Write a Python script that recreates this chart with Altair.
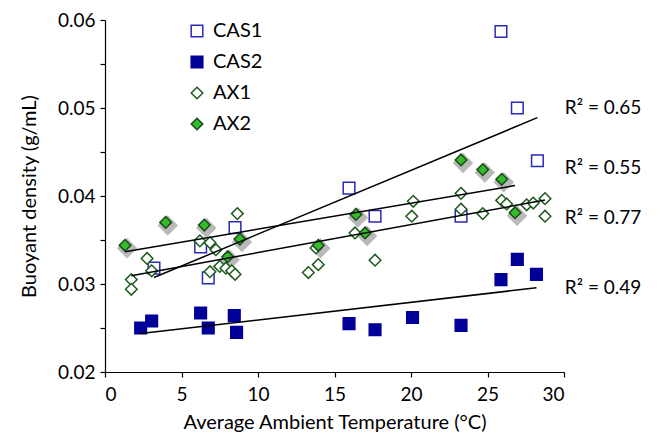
import altair as alt
import pandas as pd

series_names = ["CAS1", "CAS2", "AX1", "AX2"]

cas1_x = [3.2, 6.25, 6.75, 8.5, 15.95, 17.65, 23.27, 25.88, 26.95, 28.26]
cas1_y = [0.0318, 0.0342, 0.0307, 0.0364, 0.0409, 0.0377, 0.0377, 0.0587, 0.0500, 0.0440]

cas2_x = [2.33, 3.05, 6.25, 6.75, 8.45, 8.6, 15.95, 17.65, 20.1, 23.27, 25.88, 26.95, 28.2]
cas2_y = [0.0250, 0.0258, 0.0267, 0.0250, 0.0264, 0.0245, 0.0255, 0.0248, 0.0262, 0.0253, 0.0305, 0.0328, 0.0311]

ax1_x = [1.72, 1.72, 2.75, 3.05, 6.2, 6.86, 7.25, 8.65, 6.86, 7.5, 7.9, 8.28, 8.5,
         13.29, 13.79, 13.94, 16.34, 17.65, 20.15, 20.05, 23.27, 23.27, 24.69,
         25.93, 26.25, 27.56, 27.99, 28.76, 28.76]
ax1_y = [0.0305, 0.0294, 0.0329, 0.0315, 0.0349, 0.0347, 0.0339, 0.0380, 0.0314, 0.0320, 0.0318, 0.0315, 0.0311,
         0.0313, 0.0341, 0.0322, 0.0358, 0.0327, 0.0394, 0.0377, 0.0403, 0.0385, 0.0380,
         0.0395, 0.0391, 0.0390, 0.0392, 0.0397, 0.0377]

ax2_x = [1.31, 3.97, 6.49, 8.02, 8.82, 13.94, 16.4, 17.0, 23.27, 24.69, 25.93, 26.8]
ax2_y = [0.0344, 0.0370, 0.0367, 0.0331, 0.0351, 0.0344, 0.0379, 0.0358, 0.0441, 0.0430, 0.0419, 0.0381]

r2_labels = ["R² = 0.65", "R² = 0.55", "R² = 0.77", "R² = 0.49"]
r2_x = [30.05, 30.05, 30.05, 30.05]
r2_y = [0.0500, 0.0432, 0.0375, 0.0296]

x_ticks = [0, 5, 10, 15, 20, 25, 30]
y_ticks = [0.02, 0.025, 0.03, 0.035, 0.04, 0.045, 0.05, 0.055, 0.06]

rows = []
for name, xs, ys in [("CAS1", cas1_x, cas1_y), ("CAS2", cas2_x, cas2_y),
                     ("AX1", ax1_x, ax1_y), ("AX2", ax2_x, ax2_y)]:
    for xv, yv in zip(xs, ys):
        rows.append({"series": name, "temp": xv, "density": yv})
df = pd.DataFrame(rows)
labels_df = pd.DataFrame({"temp": r2_x, "density": r2_y, "label": r2_labels})

FONT = "Lato"

xenc = alt.X("temp:Q", scale=alt.Scale(domain=[0, 30], nice=False),
             axis=alt.Axis(values=x_ticks, title="Average Ambient Temperature (°C)", format="d"))
yenc = alt.Y("density:Q", scale=alt.Scale(domain=[0.02, 0.06], nice=False),
             axis=alt.Axis(values=y_ticks, title="Buoyant density (g/mL)",
                           labelExpr="round(datum.value*1000) % 10 == 0 ? format(datum.value, '.2f') : ''"))

leg = alt.Legend(orient="none", legendX=82, legendY=1, title=None, labelFont=FONT,
                 labelFontSize=20, labelColor="black", rowPadding=11, symbolStrokeWidth=1.5,
                 labelOffset=6)

points = alt.Chart(df).mark_point(filled=True, opacity=1, strokeWidth=1.5).encode(
    x=xenc, y=yenc,
    shape=alt.Shape("series:N", scale=alt.Scale(domain=series_names,
                    range=["square", "square", "diamond", "diamond"]), legend=leg),
    fill=alt.Fill("series:N", scale=alt.Scale(domain=series_names,
                  range=["white", "#000099", "white", "#33bb2a"]), legend=leg),
    stroke=alt.Stroke("series:N", scale=alt.Scale(domain=series_names,
                      range=["#2a2ab8", "#000099", "#1e5a1e", "#1a4a1a"]), legend=leg),
    size=alt.Size("series:N", scale=alt.Scale(domain=series_names,
                  range=[135, 135, 420, 420]), legend=leg),
)

shadow = alt.Chart(df).transform_filter(alt.datum.series == "AX2").mark_point(
    shape="diamond", filled=True, color="#8a8a8a", opacity=0.6, size=420,
    xOffset=2, yOffset=3).encode(x=xenc, y=yenc)

lines = alt.Chart(df).transform_regression(
    "temp", "density", groupby=["series"]).mark_line(color="black", strokeWidth=1.5).encode(
    x=xenc, y=yenc, detail="series:N")

texts = alt.Chart(labels_df).mark_text(align="left", baseline="middle", font=FONT,
                                        fontSize=19, color="black").encode(
    x=alt.X("temp:Q"), y=alt.Y("density:Q"), text="label:N")

chart = alt.layer(shadow, points, lines, texts).properties(
    width=459, height=352,
    autosize=alt.AutoSizeParams(type="none"),
    padding={"left": 97, "top": 12, "right": 85, "bottom": 60},
).configure_view(strokeOpacity=0).configure_axis(
    grid=False, labelFont=FONT, labelFontSize=19, labelColor="black",
    titleFont=FONT, titleFontSize=20, titleFontWeight="normal", titleColor="black",
    domainColor="black", tickColor="black", domainWidth=1.2, tickWidth=1.2, tickSize=5,
).configure_axisY(titlePadding=18, labelPadding=5).configure_axisX(titlePadding=8, labelPadding=8)

chart.save("out.html", embed_options={"renderer": "svg", "actions": False})
